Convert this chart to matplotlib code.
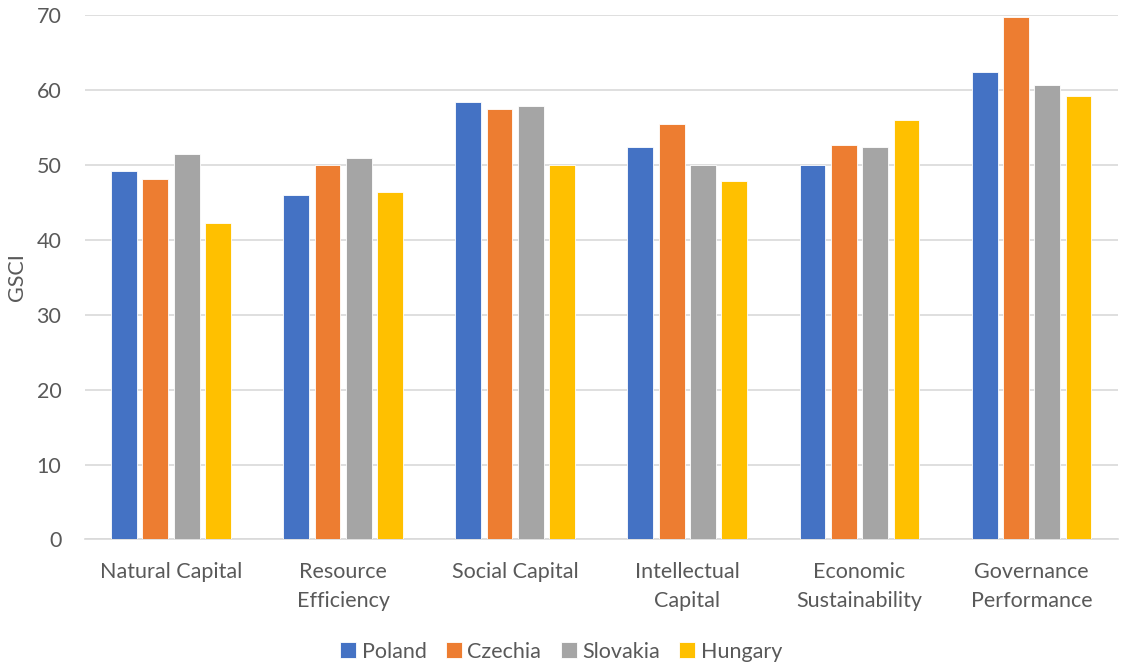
import numpy as np
import matplotlib
matplotlib.use("Agg")
import matplotlib.pyplot as plt

plt.rcParams['font.family'] = ['Lato', 'DejaVu Sans']

categories = ['Natural Capital', 'Resource\nEfficiency', 'Social Capital',
              'Intellectual\nCapital', 'Economic\nSustainability', 'Governance\nPerformance']
countries = ['Poland', 'Czechia', 'Slovakia', 'Hungary']
poland = [49.2, 45.9, 58.3, 52.4, 50.0, 62.3]
czechia = [48.1, 49.9, 57.4, 55.4, 52.6, 69.7]
slovakia = [51.4, 50.9, 57.8, 49.9, 52.3, 60.6]
hungary = [42.2, 46.4, 50.0, 47.8, 55.9, 59.1]
colors = ['#4472C4', '#ED7D31', '#A5A5A5', '#FFC000']

fig = plt.figure(figsize=(11.21, 6.68), dpi=100)
ax = fig.add_axes([0.0758, 0.1924, 0.9212, 0.7856])

x = np.arange(len(categories))
pitch = 0.182
width = 0.15
for i, (vals, name) in enumerate(zip([poland, czechia, slovakia, hungary], countries)):
    ax.bar(x + (i - 1.5) * pitch, vals, width, color=colors[i], label=name,
           edgecolor='white', linewidth=0.6, zorder=3)

ax.set_xlim(-0.5, len(categories) - 0.5)
ax.set_ylim(0, 70)
ax.set_yticks(range(0, 71, 10))
ax.yaxis.grid(True, color='#D9D9D9', linewidth=1.2, zorder=0)
ax.set_axisbelow(True)
for s in ['top', 'right', 'left']:
    ax.spines[s].set_visible(False)
ax.spines['bottom'].set_color('#D9D9D9')
ax.spines['bottom'].set_linewidth(1.2)
ax.tick_params(axis='both', length=0, labelsize=15.5, colors='#595959')
ax.tick_params(axis='x', pad=16)
ax.tick_params(axis='y', pad=17)
ax.set_xticks(x)
ax.set_xticklabels(categories, linespacing=1.6)
ax.set_ylabel('GSCI', fontsize=15.5, color='#595959', labelpad=7)

ax.legend(loc='center', bbox_to_anchor=(0.461, -0.214), ncol=4, frameon=False,
          fontsize=15.5, labelcolor='#595959', handlelength=0.75, handleheight=0.75,
          handletextpad=0.25, columnspacing=0.9)

fig.savefig('out.png', dpi=100)
